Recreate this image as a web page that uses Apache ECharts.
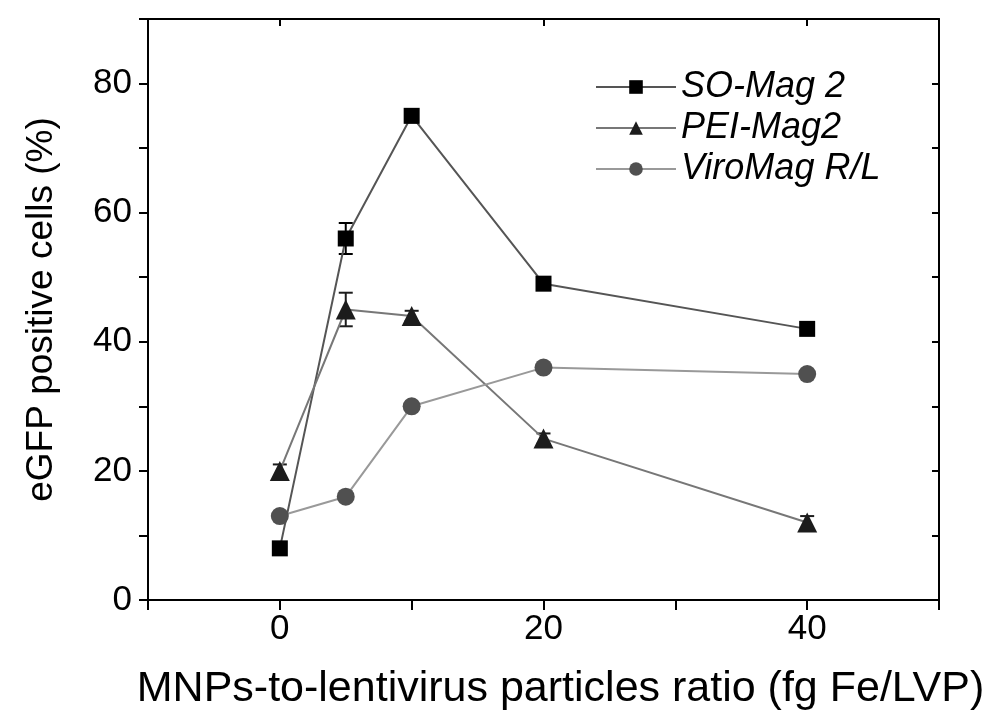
<!DOCTYPE html>
<html>
<head>
<meta charset="utf-8">
<script src="https://cdn.jsdelivr.net/npm/echarts@6/dist/echarts.min.js"></script>
<style>
  html, body { margin: 0; padding: 0; background: #fff; }
  #chart { width: 991px; height: 711px; }
</style>
</head>
<body>
<div id="chart"></div>
<script>
// ratio values (fg Fe/LVP)
const ratios = [0, 5, 10, 20, 40];

// eGFP positive cells (%)
const soMag = [8, 56, 75, 49, 42];
const soMagErr = [0.6, 2.4, 1.0, 0.8, 0.6];
const peiMag = [20, 45, 44, 25, 12];
const peiMagErr = [1.0, 2.6, 0.8, 0.8, 1.0];
const viroMag = [13, 16, 30, 36, 35];
const viroMagErr = [0.4, 0.4, 0.4, 0.4, 0.4];

const xLabelValues = [0, 20, 40];
const yLabelValues = [0, 20, 40, 60, 80];

const font = 'Liberation Sans, Arial, sans-serif';
const chart = echarts.init(document.getElementById('chart'));

function pairs(vals, errs) {
    return ratios.map((r, i) => errs ? [r, vals[i], errs[i]] : [r, vals[i]]);
}

// petite barre d'erreur verticale avec capuchons
function errorBars(name, vals, errs, color) {
    return {
        type: 'custom',
        name: name + '_err',
        data: pairs(vals, errs),
        z: 3,
        silent: true,
        renderItem: function (params, api) {
            const x = api.value(0), y = api.value(1), e = api.value(2);
            const top = api.coord([x, y + e]);
            const bot = api.coord([x, y - e]);
            const hw = 7;
            const style = { stroke: color, lineWidth: 2 };
            return {
                type: 'group',
                children: [
                    { type: 'line', shape: { x1: top[0], y1: top[1], x2: bot[0], y2: bot[1] }, style: style },
                    { type: 'line', shape: { x1: top[0] - hw, y1: top[1], x2: top[0] + hw, y2: top[1] }, style: style },
                    { type: 'line', shape: { x1: bot[0] - hw, y1: bot[1], x2: bot[0] + hw, y2: bot[1] }, style: style }
                ]
            };
        }
    };
}

function lineSeries(name, vals, symbol, size, markerColor, lineColor) {
    return {
        type: 'line',
        name: name,
        data: pairs(vals),
        symbol: symbol,
        symbolSize: size,
        showAllSymbol: true,
        z: 4,
        itemStyle: { color: markerColor, borderWidth: 0 },
        lineStyle: { color: lineColor, width: 2 }
    };
}

const axisLineStyle = { show: true, onZero: false, lineStyle: { color: '#000', width: 2 } };

const option = {
    animation: false,
    backgroundColor: '#fff',
    grid: { left: 148, right: 52, top: 19, bottom: 111, containLabel: false, outerBoundsMode: 'none' },
    legend: {
        orient: 'vertical',
        left: 590,
        top: 64,
        itemWidth: 80,
        itemHeight: 17,
        itemGap: 5,
        data: ['SO-Mag 2', 'PEI-Mag2', 'ViroMag R/L'],
        textStyle: { fontFamily: font, fontSize: 36, fontStyle: 'italic', color: '#000' }
    },
    xAxis: [{
        type: 'value',
        min: -10,
        max: 50,
        interval: 10,
        name: 'MNPs-to-lentivirus particles ratio (fg Fe/LVP)',
        nameLocation: 'middle',
        nameGap: 68,
        nameTextStyle: { fontFamily: font, fontSize: 43, color: '#000', padding: [0, 0, 0, 34] },
        axisLine: axisLineStyle,
        axisTick: { show: true, length: 10, lineStyle: { color: '#000', width: 2 } },
        axisLabel: {
            customValues: xLabelValues,
            margin: 12,
            fontFamily: font, fontSize: 35, color: '#000'
        },
        splitLine: { show: false }
    }, {
        type: 'value',
        position: 'top',
        min: -10,
        max: 50,
        interval: 10,
        axisLine: axisLineStyle,
        axisTick: { show: true, inside: true, length: 7, customValues: xLabelValues, lineStyle: { color: '#000', width: 2 } },
        axisLabel: { show: false },
        splitLine: { show: false }
    }],
    yAxis: [{
        type: 'value',
        min: 0,
        max: 90,
        interval: 10,
        name: 'eGFP positive cells (%)',
        nameLocation: 'middle',
        nameGap: 88,
        nameTextStyle: { fontFamily: font, fontSize: 37, color: '#000' },
        axisLine: axisLineStyle,
        axisTick: { show: true, length: 9, lineStyle: { color: '#000', width: 2 } },
        axisLabel: {
            customValues: yLabelValues,
            margin: 16,
            fontFamily: font, fontSize: 35, color: '#000'
        },
        splitLine: { show: false }
    }, {
        type: 'value',
        position: 'right',
        min: 0,
        max: 90,
        interval: 10,
        axisLine: axisLineStyle,
        axisTick: { show: true, inside: true, length: 7, lineStyle: { color: '#000', width: 2 } },
        axisLabel: { show: false },
        splitLine: { show: false }
    }],
    series: [
        errorBars('SO-Mag 2', soMag, soMagErr, '#000'),
        errorBars('PEI-Mag2', peiMag, peiMagErr, '#1c1c1c'),
        errorBars('ViroMag R/L', viroMag, viroMagErr, '#505050'),
        lineSeries('SO-Mag 2', soMag, 'rect', 16, '#000', '#555'),
        lineSeries('PEI-Mag2', peiMag, 'triangle', 20, '#1c1c1c', '#777'),
        lineSeries('ViroMag R/L', viroMag, 'circle', 18, '#505050', '#999')
    ]
};

chart.setOption(option);
</script>
</body>
</html>
